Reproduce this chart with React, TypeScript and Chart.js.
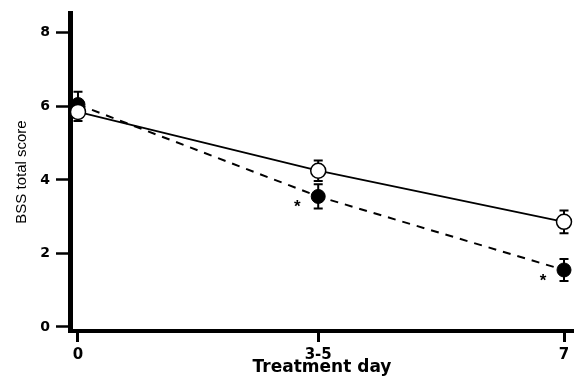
import React, { useEffect, useRef } from "react";
import { Chart, registerables } from "chart.js";

Chart.register(...registerables);

// ---- data ----
const xLabels = ["0", "3-5", "7"];
const xPositions = [0, 3.46, 7];
const openMeans = [5.85, 4.25, 2.86];
const openErrors = [0.25, 0.28, 0.31];
const filledMeans = [6.05, 3.55, 1.55];
const filledErrors = [0.35, 0.33, 0.3];
const filledSignificant = [false, true, true];
const yTicks = [0, 2, 4, 6, 8];
const xTitle = "Treatment day";
const yTitle = "BSS total score";

const errorBarPlugin = {
  id: "errorBars",
  beforeDatasetsDraw(chart: any) {
    const { ctx } = chart;
    const x = chart.scales.x;
    const y = chart.scales.y;
    const groups: [number[], number[]][] = [
      [openMeans, openErrors],
      [filledMeans, filledErrors],
    ];
    ctx.save();
    ctx.strokeStyle = "#000";
    ctx.lineWidth = 2;
    ctx.setLineDash([]);
    groups.forEach(([means, errs]) => {
      means.forEach((m, i) => {
        const px = x.getPixelForValue(xPositions[i]);
        const top = y.getPixelForValue(m + errs[i]);
        const bot = y.getPixelForValue(m - errs[i]);
        ctx.beginPath();
        ctx.moveTo(px, top);
        ctx.lineTo(px, bot);
        ctx.moveTo(px - 4.5, top);
        ctx.lineTo(px + 4.5, top);
        ctx.moveTo(px - 4.5, bot);
        ctx.lineTo(px + 4.5, bot);
        ctx.stroke();
      });
    });
    ctx.restore();
  },
  afterDatasetsDraw(chart: any) {
    const { ctx } = chart;
    const x = chart.scales.x;
    const y = chart.scales.y;
    ctx.save();
    ctx.fillStyle = "#000";
    ctx.font = "bold 17px 'Liberation Sans', Arial, sans-serif";
    ctx.textAlign = "center";
    ctx.textBaseline = "middle";
    filledSignificant.forEach((sig, i) => {
      if (!sig) return;
      const px = x.getPixelForValue(xPositions[i]);
      const py = y.getPixelForValue(filledMeans[i]);
      ctx.fillText("*", px - 21, py + 11);
    });
    ctx.restore();
  },
};

export default function App() {
  const ref = useRef<HTMLCanvasElement | null>(null);

  useEffect(() => {
    if (!ref.current) return;
    const chart = new Chart(ref.current, {
      type: "line",
      data: {
        datasets: [
          {
            label: "open",
            data: xPositions.map((xv, i) => ({ x: xv, y: openMeans[i] })),
            borderColor: "#000",
            borderWidth: 1.8,
            pointRadius: 7.5,
            pointBackgroundColor: "#fff",
            pointBorderColor: "#000",
            pointBorderWidth: 1.5,
            tension: 0,
            clip: false as any,
          },
          {
            label: "filled",
            data: xPositions.map((xv, i) => ({ x: xv, y: filledMeans[i] })),
            borderColor: "#000",
            borderWidth: 2,
            borderDash: [8, 7],
            pointRadius: 7,
            pointBackgroundColor: "#000",
            pointBorderColor: "#000",
            pointBorderWidth: 1,
            tension: 0,
            clip: false as any,
          },
        ],
      },
      options: {
        responsive: false,
        animation: false,
        layout: { autoPadding: false, padding: { top: 13, right: 0, left: 0, bottom: 0 } },
        plugins: {
          legend: { display: false },
          tooltip: { enabled: false },
        },
        scales: {
          x: {
            type: "linear",
            min: -0.115,
            max: 7.144,
            afterBuildTicks: (s: any) => {
              s.ticks = xPositions.map((v) => ({ value: v }));
            },
            afterFit: (s: any) => {
              s.height = 52;
              s.paddingLeft = 0;
              s.paddingRight = 0;
            },
            ticks: {
              callback: (_v: any, i: number) => xLabels[i],
              autoSkip: false,
              maxRotation: 0,
              color: "#000",
              padding: 4,
              font: { family: "'DejaVu Sans', sans-serif", size: 15, weight: "bold" },
            },
            grid: {
              drawOnChartArea: false,
              drawTicks: true,
              tickLength: 11,
              tickWidth: 3,
              tickColor: "#000",
            },
            border: { display: true, color: "#000", width: 4 },
            title: {
              display: true,
              text: xTitle,
              color: "#000",
              padding: { top: 0, bottom: 5 },
              font: { family: "'DejaVu Sans', sans-serif", size: 17, weight: "bold" },
            },
          },
          y: {
            type: "linear",
            min: -0.11,
            max: 8.54,
            afterBuildTicks: (s: any) => {
              s.ticks = yTicks.map((v) => ({ value: v }));
            },
            afterFit: (s: any) => {
              s.width = 70;
              s.paddingTop = 0;
              s.paddingBottom = 0;
            },
            ticks: {
              color: "#000",
              padding: 6,
              font: { family: "'DejaVu Sans', sans-serif", size: 14, weight: "bold" },
            },
            grid: {
              drawOnChartArea: false,
              drawTicks: true,
              tickLength: 14,
              tickWidth: 2.5,
              tickColor: "#000",
            },
            border: { display: true, color: "#000", width: 5 },
            title: {
              display: true,
              text: yTitle,
              color: "#000",
              padding: { top: 13, bottom: 0 },
              font: { family: "'Liberation Sans', Arial, sans-serif", size: 15 },
            },
          },
        },
      },
      plugins: [errorBarPlugin],
    } as any);
    return () => chart.destroy();
  }, []);

  return (
    <div style={{ position: "fixed", left: 0, top: 0, width: 574, height: 383, background: "#fff" }}>
      <canvas ref={ref} width={574} height={383} style={{ display: "block" }} />
    </div>
  );
}
